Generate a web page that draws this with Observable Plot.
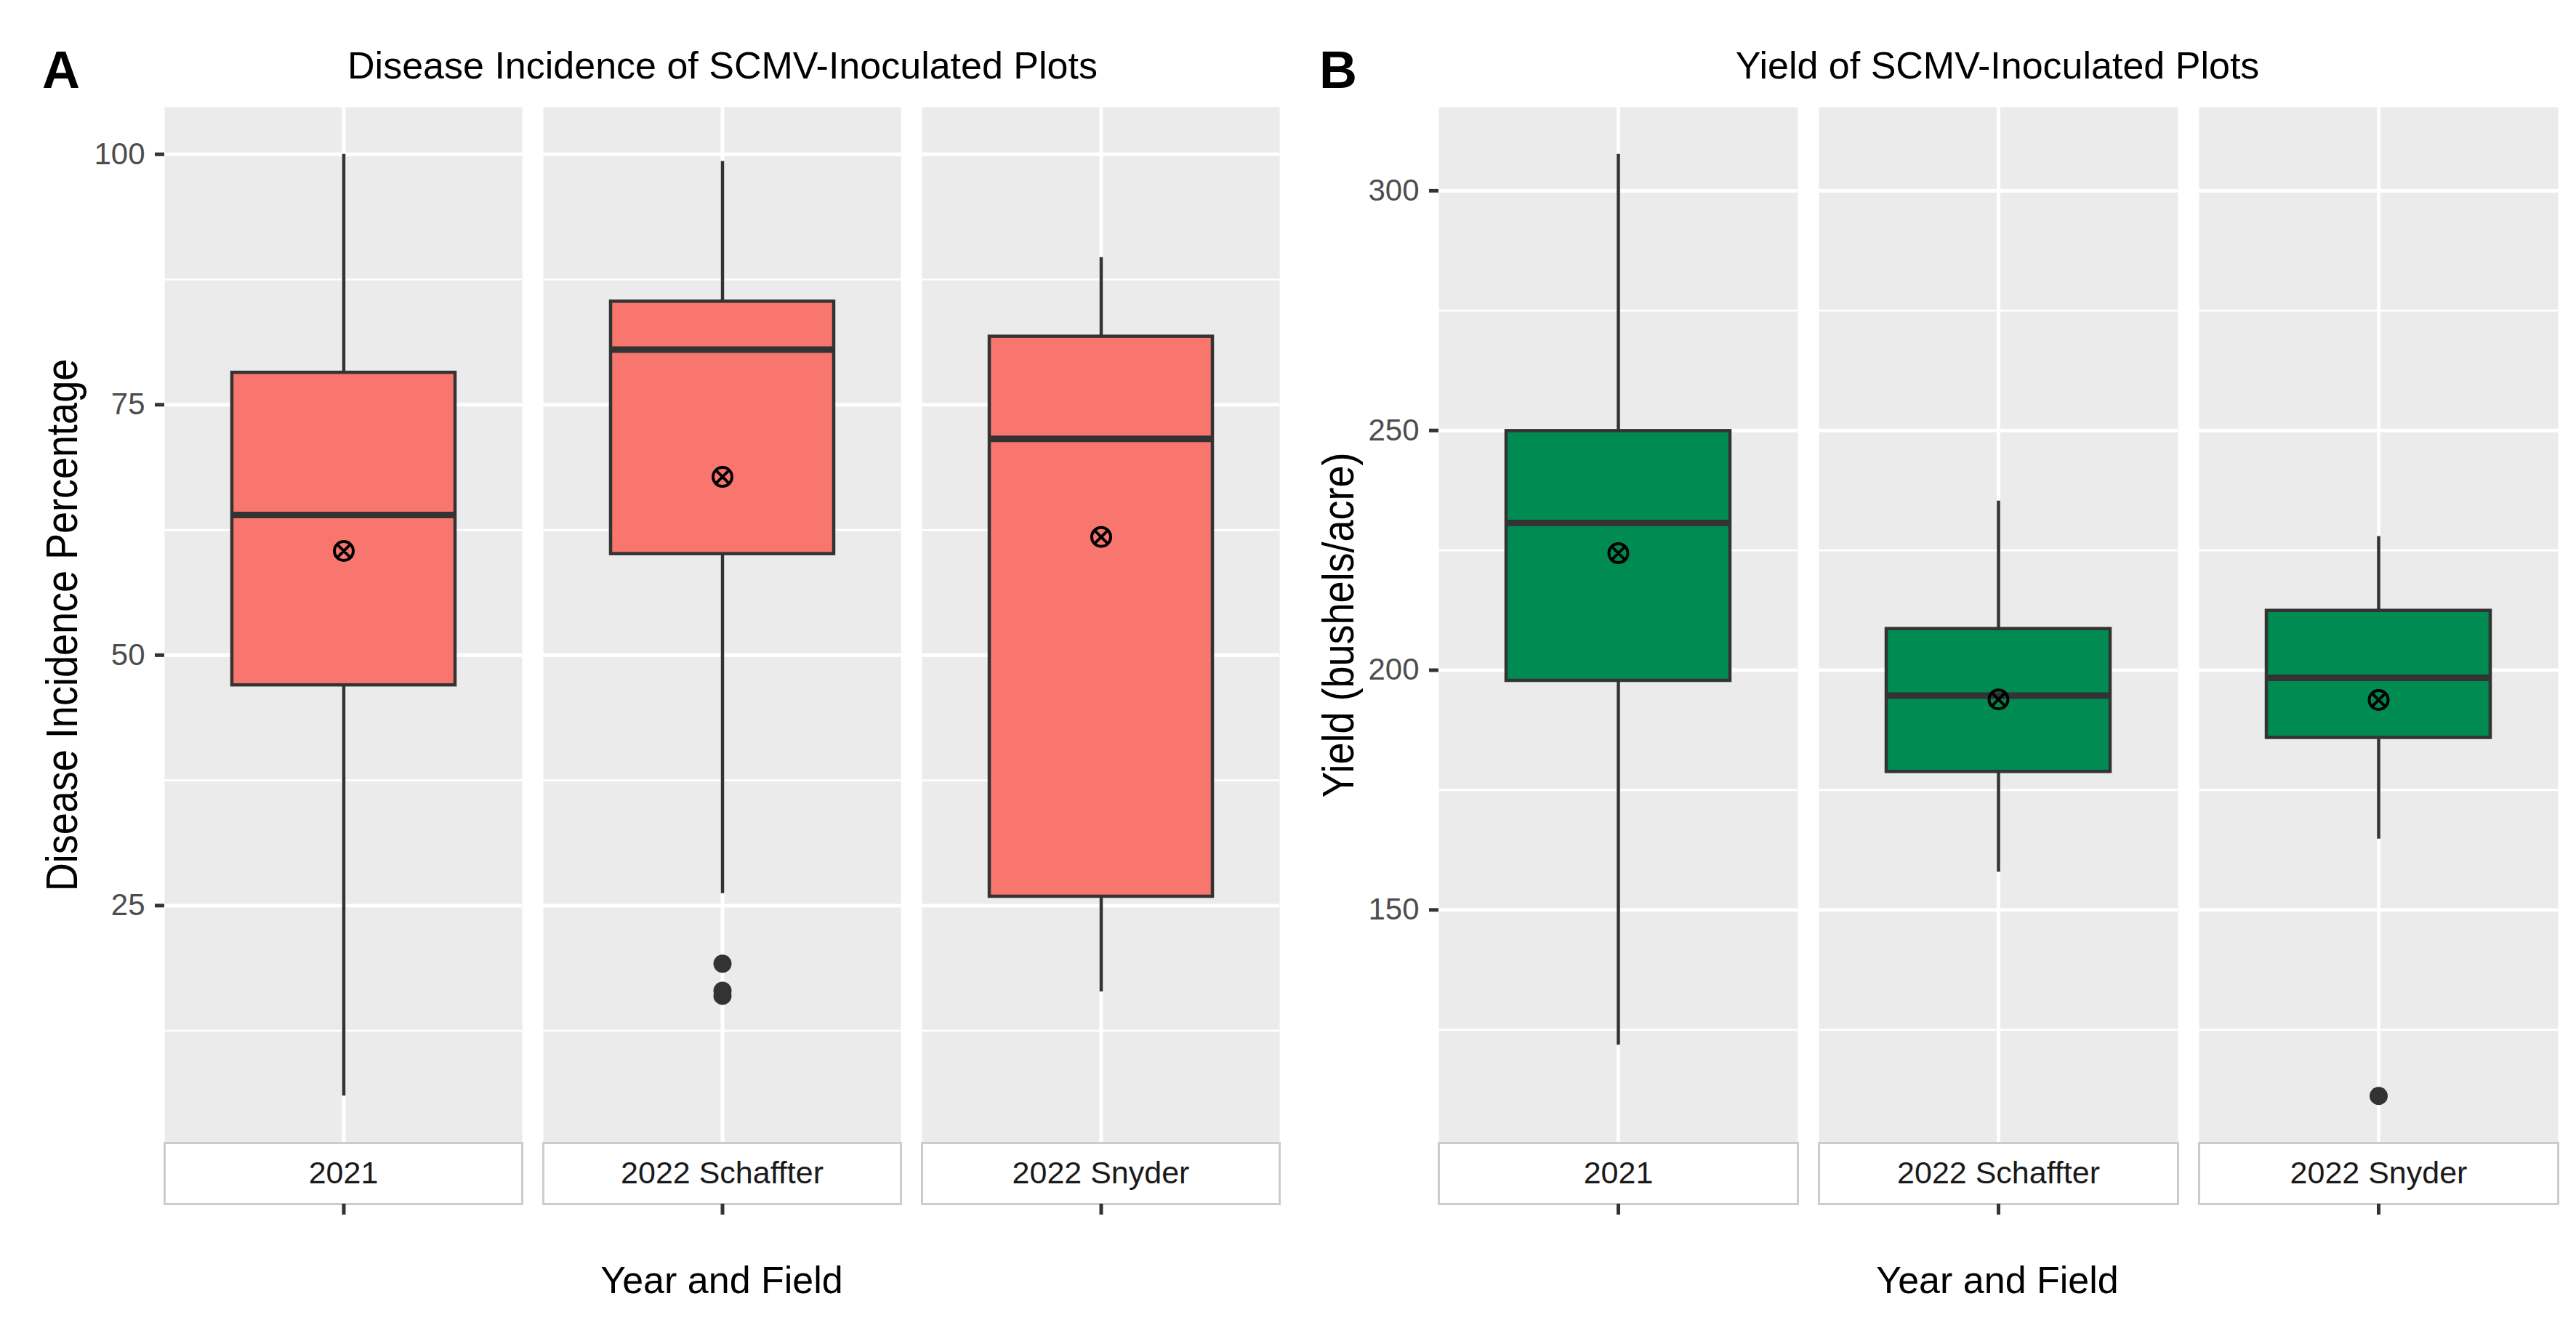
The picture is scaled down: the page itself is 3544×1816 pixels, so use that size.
<!DOCTYPE html>
<html>
<head>
<meta charset="utf-8">
<script src="https://cdn.jsdelivr.net/npm/d3@7"></script>
<script src="https://cdn.jsdelivr.net/npm/@observablehq/plot@0.6"></script>
<style>
  html, body { margin: 0; padding: 0; background: #ffffff; }
  #root { position: relative; width: 3544px; height: 1816px; background: #ffffff; font-family: "Liberation Sans", Arial, Helvetica, sans-serif; overflow: hidden; }
  .abs { position: absolute; white-space: nowrap; line-height: 1; }
  .tag { font-weight: bold; font-size: 72px; color: #000; }
  .title { font-size: 52px; color: #000; transform: translateX(-50%); }
  .xlab { font-size: 52px; color: #000; transform: translateX(-50%); }
  .ylab { font-size: 54px; color: #000; transform: translate(-50%, -50%) rotate(-90deg) scale(1, 1.12); }
</style>
</head>
<body>
<div id="root"></div>
<script>
// ---------- data ----------
const categories = ["2021", "2022 Schaffter", "2022 Snyder"];

// Panel A: disease incidence (%)
const incLow    = [6.0, 26.2, 16.4];
const incQ1     = [47.0, 60.1, 25.9];
const incMedian = [64.0, 80.5, 71.6];
const incQ3     = [78.2, 85.3, 81.8];
const incHigh   = [100.0, 99.3, 89.7];
const incMean   = [60.4, 67.8, 61.8];
const incOutlierCat = ["2022 Schaffter", "2022 Schaffter", "2022 Schaffter"];
const incOutlierVal = [19.2, 16.5, 16.0];
const incMajor = [25, 50, 75, 100];
const incMinor = [12.5, 37.5, 62.5, 87.5];

// Panel B: yield (bushels/acre)
const yldLow    = [121.8, 157.9, 164.8];
const yldQ1     = [197.8, 178.8, 185.9];
const yldMedian = [230.7, 194.7, 198.4];
const yldQ3     = [249.9, 208.6, 212.4];
const yldHigh   = [307.6, 235.3, 227.9];
const yldMean   = [224.4, 193.9, 193.8];
const yldOutlierCat = ["2022 Snyder"];
const yldOutlierVal = [111.2];
const yldMajor = [150, 200, 250, 300];
const yldMinor = [125, 175, 225, 275];

// ---------- helpers ----------
function makeTable(low, q1, med, q3, high, mean) {
  return categories.map((c, i) => ({cat: c, low: low[i], q1: q1[i], median: med[i], q3: q3[i], high: high[i], mean: mean[i]}));
}
function makeOutliers(cats, vals) {
  return cats.map((c, i) => ({cat: c, v: vals[i]}));
}
function expandedDomain(table, outliers) {
  const lo = d3.min([...table.map(d => d.low), ...outliers.map(d => d.v)]);
  const hi = d3.max([...table.map(d => d.high), ...outliers.map(d => d.v)]);
  const pad = (hi - lo) * 0.05;
  return [lo - pad, hi + pad];
}
// circle with a cross inside (ggplot shape 13)
const crossCircle = {
  draw(ctx, size) {
    const r = Math.sqrt(size / Math.PI);
    ctx.moveTo(r, 0);
    ctx.arc(0, 0, r, 0, 2 * Math.PI);
    const d = r * 0.8;
    ctx.moveTo(-d, -d); ctx.lineTo(d, d);
    ctx.moveTo(-d, d); ctx.lineTo(d, -d);
  }
};

const FONT = "'Liberation Sans', Arial, Helvetica, sans-serif";
const fxOpts = {domain: categories, paddingInner: 0.0558, paddingOuter: 0, axis: null, label: null};
const xOpts = {type: "band", domain: ["b"], paddingInner: 0, paddingOuter: 0.3, axis: null, label: null};
const slot = () => "b";

function mainPlot({table, outliers, fill, major, minor, width, marginLeft, marginRight}) {
  return Plot.plot({
    width, height: 1425,
    marginLeft, marginRight, marginTop: 0, marginBottom: 0,
    style: {fontFamily: FONT, fontSize: "42px", background: "transparent", overflow: "visible", maxWidth: "none"},
    fx: fxOpts,
    x: xOpts,
    y: {domain: expandedDomain(table, outliers), axis: null, label: null},
    marks: [
      Plot.frame({fill: "#EBEBEB", stroke: null}),
      Plot.ruleY(minor, {stroke: "#FFFFFF", strokeWidth: 2.6}),
      Plot.ruleY(major, {stroke: "#FFFFFF", strokeWidth: 5}),
      Plot.gridX({stroke: "#FFFFFF", strokeOpacity: 1, strokeWidth: 5}),
      Plot.ruleX(table, {fx: "cat", x: slot, y1: "low", y2: "high", stroke: "#333333", strokeWidth: 4.5}),
      Plot.barY(table, {fx: "cat", x: slot, y1: "q1", y2: "q3", fill, stroke: "#333333", strokeWidth: 4.5}),
      Plot.tickY(table, {fx: "cat", x: slot, y: "median", stroke: "#333333", strokeWidth: 9}),
      Plot.dot(table, {fx: "cat", x: slot, y: "mean", r: 13, symbol: crossCircle, fill: "none", stroke: "#000000", strokeWidth: 4}),
      Plot.dot(outliers, {fx: "cat", x: slot, y: "v", r: 12.5, fill: "#333333"}),
      Plot.axisY({ticks: major, tickSize: 13, tickPadding: 14, stroke: "#333333", strokeWidth: 5, fill: "#4D4D4D", fontSize: 42, label: null})
    ]
  });
}

function stripPlot({width, marginLeft, marginRight}) {
  return Plot.plot({
    width, height: 104,
    marginLeft, marginRight, marginTop: 0, marginBottom: 20,
    style: {fontFamily: FONT, fontSize: "43px", background: "transparent", overflow: "visible", maxWidth: "none"},
    fx: fxOpts,
    x: xOpts,
    marks: [
      Plot.frame({fill: "#FFFFFF", stroke: "#CCCCCC", strokeWidth: 3}),
      Plot.text(categories, {fx: d => d, text: d => d, frameAnchor: "middle", fontSize: 43, fill: "#1A1A1A"}),
      Plot.axisX({tickSize: 15, stroke: "#333333", strokeWidth: 5, tickFormat: () => "", label: null})
    ]
  });
}

const root = document.getElementById("root");
function place(el, left, top) {
  const wrap = document.createElement("div");
  wrap.className = "abs";
  wrap.style.left = left + "px";
  wrap.style.top = top + "px";
  wrap.appendChild(el);
  root.appendChild(wrap);
}
function label(text, cls, left, top) {
  const d = document.createElement("div");
  d.className = "abs " + cls;
  d.style.left = left + "px";
  d.style.top = top + "px";
  d.textContent = text;
  root.appendChild(d);
}

const tableA = makeTable(incLow, incQ1, incMedian, incQ3, incHigh, incMean);
const outA = makeOutliers(incOutlierCat, incOutlierVal);
const tableB = makeTable(yldLow, yldQ1, yldMedian, yldQ3, yldHigh, yldMean);
const outB = makeOutliers(yldOutlierCat, yldOutlierVal);

// Panel A
const geoA = {width: 1770, marginLeft: 225, marginRight: 9};
place(mainPlot({table: tableA, outliers: outA, fill: "#F8766D", major: incMajor, minor: incMinor, ...geoA}), 0, 147);
place(stripPlot(geoA), 0, 1572);
label("A", "tag", 58, 60);
label("Disease Incidence of SCMV-Inoculated Plots", "title", 994, 64);
label("Year and Field", "xlab", 993, 1735);
label("Disease Incidence Percentage", "ylab", 85, 860);

// Panel B
const geoB = {width: 1774, marginLeft: 208, marginRight: 25};
place(mainPlot({table: tableB, outliers: outB, fill: "#008B52", major: yldMajor, minor: yldMinor, ...geoB}), 1770, 147);
place(stripPlot(geoB), 1770, 1572);
label("B", "tag", 1815, 60);
label("Yield of SCMV-Inoculated Plots", "title", 2748, 64);
label("Year and Field", "xlab", 2748, 1735);
label("Yield (bushels/acre)", "ylab", 1841, 860);
</script>
</body>
</html>
